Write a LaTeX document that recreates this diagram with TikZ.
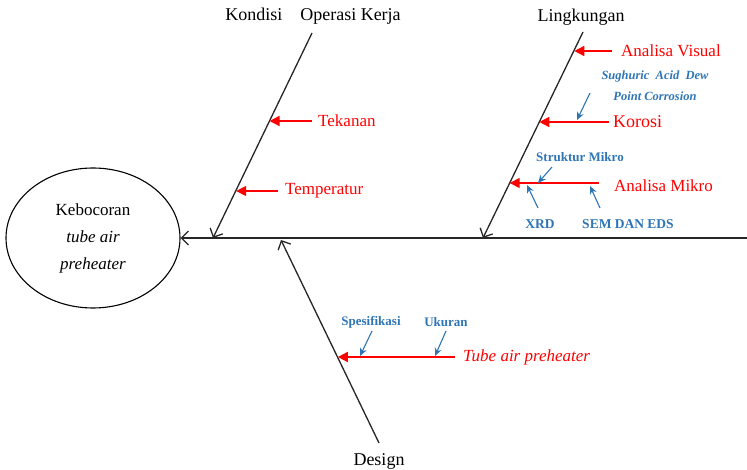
\documentclass[tikz,border=0pt]{standalone}
\usepackage{fontspec}
\setmainfont{Liberation Serif}
\usetikzlibrary{arrows.meta,shapes.geometric,calc}
\definecolor{fbblue}{RGB}{46,117,182}
\begin{document}
\begin{tikzpicture}[x=1pt,y=-1pt,
  bone/.style={draw=black!85, line width=1.3pt},
  spinearrow/.style={-{Straight Barb[length=7pt,width=14pt]}},
  cause/.style={red, line width=1.5pt, -{Triangle[length=10pt,width=10pt]}},
  sub/.style={fbblue, line width=1.1pt, -{Stealth[length=8pt,width=7pt]}},
  redlbl/.style={text=red, font=\fontsize{17}{17}\selectfont, inner sep=0pt, anchor=west},
  bigred/.style={redlbl, font=\fontsize{17}{17}\selectfont},
  bluelbl/.style={text=fbblue, font=\fontsize{13}{13}\selectfont\bfseries, inner sep=0pt},
  blacklbl/.style={font=\fontsize{18}{18}\selectfont, inner sep=0pt}
]
\useasboundingbox (0,0) rectangle (747,470);
% head
\node (head) [draw, ellipse, line width=1.1pt, minimum width=174pt, minimum height=140pt,
  align=center, font=\fontsize{17}{27}\selectfont] at (93,238)
  {Kebocoran\\ \textit{tube air}\\ \textit{preheater}};
% spine
\coordinate (tail) at (747,238);
\draw[bone, spinearrow] (tail) -- (head.east);
% bone: kondisi
\coordinate (k1) at (312,33);
\coordinate (k2) at (213,238);
\draw[bone, spinearrow] (k1) -- (k2);
\node (kondisi) [blacklbl] at (313,16) {Kondisi\quad Operasi Kerja};
% bone: lingkungan
\coordinate (l1) at (583,32);
\coordinate (l2) at (483,238);
\draw[bone, spinearrow] (l1) -- (l2);
\node (lingk) [blacklbl] at (581,17) {Lingkungan};
% bone: design
\coordinate (d1) at (379,443);
\coordinate (d2) at (281,240);
\draw[bone, spinearrow] (d1) -- (d2);
\node (design) [blacklbl] at (379,461) {Design};
% causes
\node (tekanan) [redlbl] at (318,121) {Tekanan};
\coordinate (tk) at ($(k1)!0.429!(k2)$);
\draw[cause] ([xshift=-6pt]tekanan.west) -- (tk |- tekanan.west);
\node (temp) [redlbl] at (285,191) {Temperatur};
\coordinate (tp) at ($(k1)!0.766!(k2)$);
\draw[cause] ([xshift=-7pt]temp.west) -- (tp |- temp.west);
\node (visual) [bigred] at (621,51) {Analisa Visual};
\coordinate (av) at ($(l1)!0.087!(l2)$);
\draw[cause] ([xshift=-9pt]visual.west) -- (av |- visual.west);
\node (korosi) [bigred, font=\fontsize{18}{18}\selectfont] at (613,122) {Korosi};
\coordinate (kr) at ($(l1)!0.437!(l2)$);
\draw[cause] ([xshift=-4pt]korosi.west) -- (kr |- korosi.west);
\node (mikro) [bigred] at (614,186) {Analisa Mikro};
\coordinate (am) at ($(l1)!0.733!(l2)$);
\draw[cause] ([xshift=-15pt,yshift=3pt]mikro.west) -- ([yshift=3pt]am |- mikro.west);
\node (tap) [bigred, font=\fontsize{17}{17}\selectfont\itshape] at (463,357) {Tube air preheater};
\coordinate (ds) at ($(d2)!0.58!(d1)$);
\draw[cause] ([xshift=-8pt]tap.west) -- (ds |- tap.west);
% sub-causes
\node (sulf) [bluelbl, align=center, font=\fontsize{12.5}{21}\selectfont\bfseries\itshape] at (655,86)
  {Sughuric\ \ Acid\ \ Dew\\Point Corrosion};
\coordinate (s1) at (590,93);
\coordinate (s2) at (577,120);
\draw[sub] (s1) -- (s2);
\node (struk) [bluelbl] at (580,157) {Struktur Mikro};
\coordinate (st1) at (552,167);
\coordinate (st2) at (538,183);
\draw[sub] (st1) -- (st2);
\node (xrd) [bluelbl, font=\fontsize{13.5}{13.5}\selectfont\bfseries] at (540,224) {XRD};
\coordinate (x1) at (538,208);
\coordinate (x2) at (527,185);
\draw[sub] (x1) -- (x2);
\node (sem) [bluelbl, font=\fontsize{13.5}{13.5}\selectfont\bfseries] at (628,224) {SEM DAN EDS};
\coordinate (se1) at (600,208);
\coordinate (se2) at (590,186);
\draw[sub] (se1) -- (se2);
\node (spes) [bluelbl] at (371,322) {Spesifikasi};
\coordinate (sp1) at (372,331);
\coordinate (sp2) at (360,356);
\draw[sub] (sp1) -- (sp2);
\node (ukur) [bluelbl] at (446,322) {Ukuran};
\coordinate (u1) at (446,331);
\coordinate (u2) at (435,356);
\draw[sub] (u1) -- (u2);
\end{tikzpicture}
\end{document}
